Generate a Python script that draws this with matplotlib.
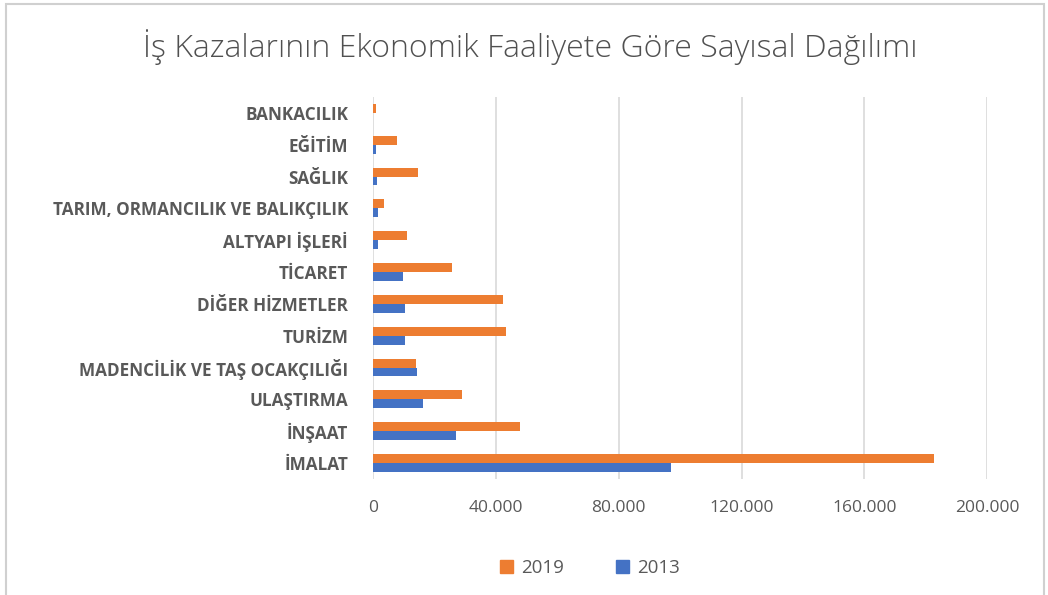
import numpy as np
import matplotlib.pyplot as plt
from matplotlib.patches import Rectangle, Patch
from matplotlib.ticker import FuncFormatter

plt.rcParams['font.family'] = ['Open Sans', 'DejaVu Sans']

# Data (top to bottom as shown)
categories = ["BANKACILIK", "EĞİTİM", "SAĞLIK", "TARIM, ORMANCILIK VE BALIKÇILIK",
              "ALTYAPI İŞLERİ", "TİCARET", "DİĞER HİZMETLER", "TURİZM",
              "MADENCİLİK VE TAŞ OCAKÇILIĞI", "ULAŞTIRMA", "İNŞAAT", "İMALAT"]
values_2019 = [800, 7900, 14500, 3600, 11000, 25700, 42200, 43300, 14000, 28800, 47700, 182700]
values_2013 = [100, 900, 1200, 1500, 1700, 9900, 10500, 10500, 14300, 16200, 27000, 97000]
xticks = [0, 40000, 80000, 120000, 160000, 200000]

orange = "#ED7D31"
blue = "#4472C4"
text_gray = "#595959"

fig = plt.figure(figsize=(10.48, 5.95), dpi=100)
ax = fig.add_axes([0.356, 0.195, 0.586, 0.642])

y = np.arange(len(categories))
h = 0.28
ax.barh(y - h / 2, values_2019, height=h, color=orange, label="2019")
ax.barh(y + h / 2, values_2013, height=h, color=blue, label="2013")

ax.set_yticks(y)
ax.set_yticklabels(categories, fontsize=12.3, fontweight='bold', color=text_gray)
ax.set_ylim(len(categories) - 0.5, -0.5)
ax.set_xlim(0, 200000)
ax.set_xticks(xticks)
ax.xaxis.set_major_formatter(FuncFormatter(lambda v, p: "0" if v == 0 else f"{int(v):,}".replace(",", ".")))
ax.tick_params(axis='x', labelsize=12.5, colors=text_gray, length=0, pad=15)
ax.tick_params(axis='y', length=0, pad=18)

ax.grid(axis='x', color="#D9D9D9", linewidth=1.2)
ax.set_axisbelow(True)
for s in ax.spines.values():
    s.set_visible(False)

fig.text(0.506, 0.921, "İş Kazalarının Ekonomik Faaliyete Göre Sayısal Dağılımı",
         ha='center', va='center', fontsize=23, color="#505050", fontweight='light')

handles = [Patch(color=orange, label="2019"), Patch(color=blue, label="2013")]
fig.legend(handles=handles, loc='center', bbox_to_anchor=(0.563, 0.045), ncol=2,
           frameon=False, fontsize=13.5, labelcolor=text_gray,
           handlelength=0.7, handleheight=0.7, columnspacing=2.8, handletextpad=0.4)

fig.patches.append(Rectangle((0.006, -0.01), 0.99, 1.004, transform=fig.transFigure,
                             fill=False, edgecolor="#D0D0D0", linewidth=1.5))

fig.savefig("out.png", dpi=100)
